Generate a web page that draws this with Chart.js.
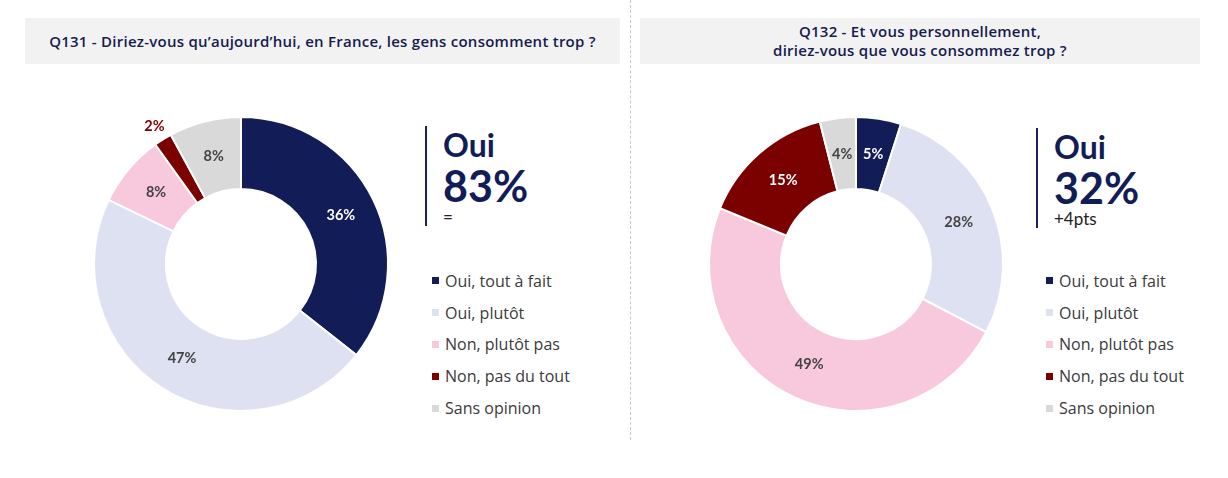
<!DOCTYPE html>
<html>
<head>
<meta charset="utf-8">
<script src="https://cdn.jsdelivr.net/npm/chart.js@4"></script>
<style>
  body { margin: 0; width: 1228px; height: 478px; background: #fff; position: relative; overflow: hidden; font-family: Lato, "Open Sans", sans-serif; }
  .head { position: absolute; top: 18px; height: 46px; background: #f2f2f2; color: #161b4f; font-family: "Open Sans", sans-serif; font-weight: 600; font-size: 15px; letter-spacing: 0.25px; text-align: center; display: flex; align-items: center; justify-content: center; line-height: 19px; }
  .sep { position: absolute; left: 630px; top: 0; height: 440px; border-left: 1px dashed #c8c8c8; }
  canvas { position: absolute; }
  .kpi { position: absolute; border-left: 2px solid #1b2160; padding-left: 16px; color: #121c57; }
  .kpi .a { font-size: 32px; font-weight: bold; line-height: 38px; }
  .kpi .b { font-size: 43px; font-weight: bold; line-height: 44px; }
  .kpi .c { font-size: 17px; color: #222; line-height: 18px; }
  .legend { position: absolute; font-family: "Open Sans", sans-serif; font-size: 16px; color: #3a3a3a; }
  .legend div { height: 31.8px; display: flex; align-items: center; }
  .legend span { display: inline-block; width: 7px; height: 7px; margin-right: 6px; }
</style>
</head>
<body>
<div class="head" style="left:25px;width:595px;">Q131 - Diriez-vous qu’aujourd’hui, en France, les gens consomment trop ?</div>
<div class="head" style="left:640px;width:560px;">Q132 - Et vous personnellement,<br>diriez-vous que vous consommez trop ?</div>
<div class="sep"></div>

<canvas id="c1" width="360" height="360" style="left:61px;top:84px;width:360px;height:360px;"></canvas>
<canvas id="c2" width="360" height="360" style="left:676px;top:84px;width:360px;height:360px;"></canvas>

<div class="kpi" style="left:425px;top:126px;">
  <div class="a" id="k1a"></div><div class="b" id="k1b"></div><div class="c" id="k1c"></div>
</div>
<div class="kpi" style="left:1036px;top:128px;">
  <div class="a" id="k2a"></div><div class="b" id="k2b"></div><div class="c" id="k2c"></div>
</div>

<div class="legend" id="lg1" style="left:432px;top:265px;"></div>
<div class="legend" id="lg2" style="left:1046px;top:265px;"></div>

<script>
// answers, same order in both questions
var categories = ['Oui, tout à fait', 'Oui, plutôt', 'Non, plutôt pas', 'Non, pas du tout', 'Sans opinion'];
var q131Values = [36, 47, 8, 2, 8];
var q132Values = [5, 28, 49, 15, 4];
var q131Oui = '83%', q131Trend = '=';
var q132Oui = '32%', q132Trend = '+4pts';

var colors = ['#121c57', '#dde1f1', '#f8c9dc', '#7b0000', '#d9d9d9'];
var labelColors = ['#ffffff', '#444444', '#444444', '#ffffff', '#444444'];

// percent labels drawn on each slice (tiny slices go outside in their own colour)
var sliceLabels = {
    id: 'sliceLabels',
    afterDatasetsDraw: function(chart) {
        var ctx = chart.ctx;
        var meta = chart.getDatasetMeta(0);
        var vals = chart.data.datasets[0].data;
        ctx.save();
        ctx.font = 'bold 14.5px Lato, "Open Sans", sans-serif';
        ctx.textAlign = 'center';
        ctx.textBaseline = 'middle';
        meta.data.forEach(function(arc, i) {
            var p = arc.getProps(['x', 'y', 'startAngle', 'endAngle', 'innerRadius', 'outerRadius'], true);
            var mid = (p.startAngle + p.endAngle) / 2;
            var r = (p.innerRadius + p.outerRadius) / 2;
            var col = labelColors[i];
            if (vals[i] < 3) {
                r = p.outerRadius + 16;
                col = colors[i];
            }
            ctx.fillStyle = col;
            ctx.fillText(vals[i] + '%', p.x + Math.cos(mid) * r, p.y + Math.sin(mid) * r);
        });
        ctx.restore();
    }
};

function makeDonut(id, values) {
    return new Chart(document.getElementById(id), {
        type: 'doughnut',
        data: {
            labels: categories,
            datasets: [{
                data: values,
                backgroundColor: colors,
                borderColor: '#ffffff',
                borderWidth: 2
            }]
        },
        options: {
            responsive: false,
            animation: false,
            cutout: '51%',
            layout: { padding: 32 },
            plugins: { legend: { display: false }, tooltip: { enabled: false } }
        },
        plugins: [sliceLabels]
    });
}

function makeLegend(id) {
    var html = '';
    for (var i = 0; i < categories.length; i++) {
        html += '<div><span style="background:' + colors[i] + '"></span>' + categories[i] + '</div>';
    }
    document.getElementById(id).innerHTML = html;
}

makeDonut('c1', q131Values);
makeDonut('c2', q132Values);
makeLegend('lg1');
makeLegend('lg2');
document.getElementById('k1a').textContent = 'Oui';
document.getElementById('k1b').textContent = q131Oui;
document.getElementById('k1c').textContent = q131Trend;
document.getElementById('k2a').textContent = 'Oui';
document.getElementById('k2b').textContent = q132Oui;
document.getElementById('k2c').textContent = q132Trend;
</script>
</body>
</html>
